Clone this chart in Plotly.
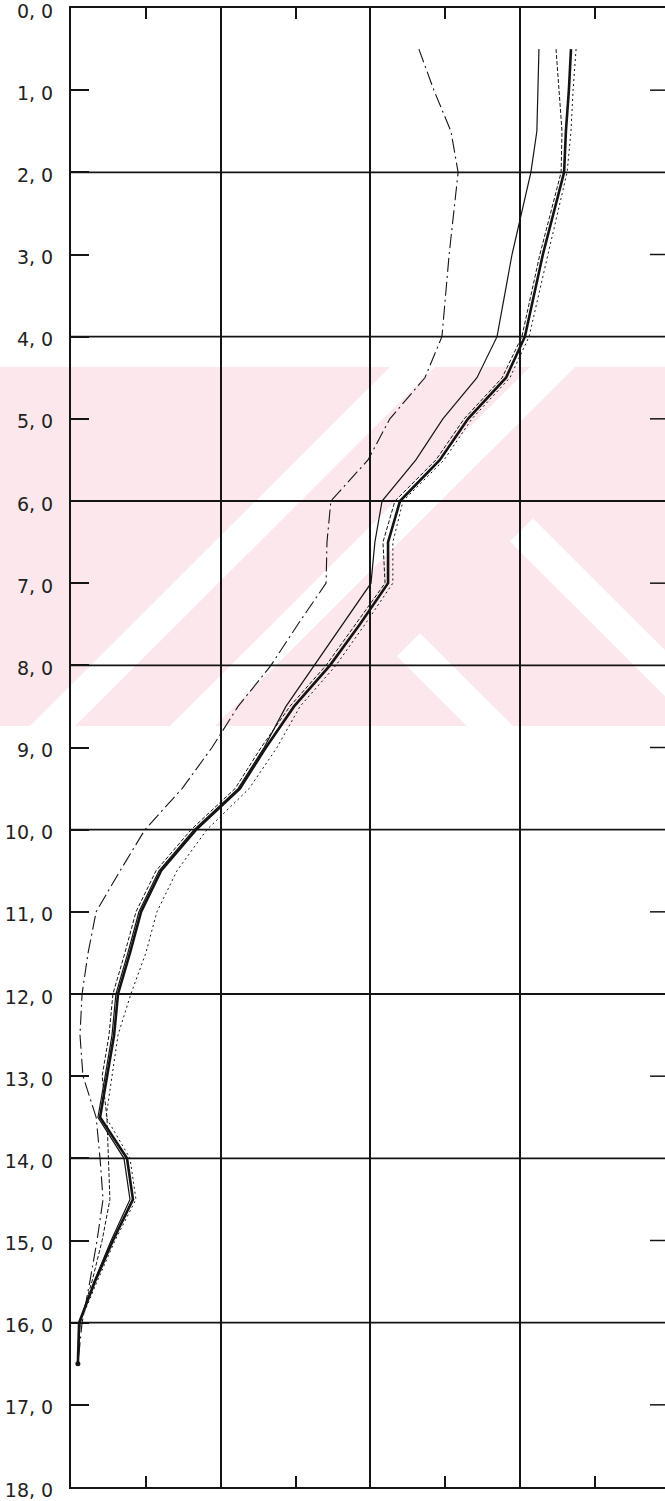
import plotly.graph_objects as go

# Depth of each measurement (m)
depth = [0.5, 1, 1.5, 2, 3, 4, 4.5, 5, 5.5, 6, 6.5, 7, 7.5, 8, 8.5, 9, 9.5,
         10, 10.5, 11, 11.5, 12, 12.5, 13, 13.5, 14, 14.5, 15, 15.5, 16, 16.5]

# Temperature profiles (degC), one per survey
temp_a = [16.62, 17.12, 17.69, 17.93, 17.63, 17.39, 16.82, 15.65, 14.92, 13.68,
          13.55, 13.52, 12.58, 11.68, 10.58, 9.71, 8.71, 7.47, 6.64, 5.84,
          5.57, 5.37, 5.30, 5.40, 5.84, 5.97, 6.07, 5.87, 5.63, 5.37, 5.23]
temp_b = [20.63, 20.60, 20.56, 20.36, 19.73, 19.23, 18.56, 17.42, 16.52, 15.39,
          15.15, 15.02, 14.08, 13.15, 12.18, 11.45, 10.58, 9.11, 7.94, 7.27,
          6.90, 6.50, 6.37, 6.14, 5.90, 6.77, 6.97, 6.34, 5.77, 5.30, 5.23]
temp_c = [21.20, 21.30, 21.40, 21.37, 20.66, 20.06, 19.40, 18.13, 17.19, 15.82,
          15.42, 15.49, 14.52, 13.52, 12.31, 11.35, 10.48, 9.01, 7.84, 7.17,
          6.80, 6.40, 6.27, 6.04, 6.20, 6.24, 6.30, 6.04, 5.70, 5.30, 5.23]
temp_d = [21.70, 21.63, 21.53, 21.47, 20.76, 20.16, 19.53, 18.26, 17.32, 15.99,
          15.59, 15.59, 14.65, 13.65, 12.45, 11.51, 10.64, 9.18, 8.01, 7.34,
          6.97, 6.57, 6.44, 6.20, 5.97, 6.87, 7.07, 6.40, 5.80, 5.27, 5.23]
temp_e = [21.87, 21.77, 21.70, 21.57, 20.93, 20.30, 19.66, 18.39, 17.46, 16.09,
          15.75, 15.75, 14.82, 13.85, 12.65, 11.88, 10.95, 9.54, 8.54, 7.87,
          7.50, 7.00, 6.57, 6.37, 6.17, 6.97, 7.17, 6.47, 5.87, 5.30, 5.23]

# Axis settings
temp_range = [5, 24.84]
temp_grid = [10, 15, 20]
temp_minor = [7.5, 12.5, 17.5, 22.5]
depth_ticks = list(range(0, 19))
depth_labels = [f"{d}, 0" for d in depth_ticks]
depth_grid = [2, 4, 6, 8, 10, 12, 14, 16]
depth_odd = [1, 3, 5, 7, 9, 11, 13, 15, 17]

INK = "#141414"
W, H = 665, 1501
ML, MR, MT, MB = 71, 0, 5, 13
PW, PH = W - ML - MR, H - MT - MB

fig = go.Figure()

profiles = [
    (temp_a, dict(width=1.1, dash="14px,4px,2px,4px")),
    (temp_b, dict(width=1.2)),
    (temp_c, dict(width=1.0, dash="4px,2px")),
    (temp_d, dict(width=2.6)),
    (temp_e, dict(width=1.0, dash="2px,3px")),
]
for vals, style in profiles:
    fig.add_trace(go.Scatter(x=vals, y=depth, mode="lines",
                             line=dict(color=INK, **style),
                             showlegend=False, hoverinfo="skip"))
fig.add_trace(go.Scatter(x=[temp_d[-1]], y=[depth[-1]], mode="markers",
                         marker=dict(size=5, color=INK),
                         showlegend=False, hoverinfo="skip"))


def px_to_paper(pts):
    return [((x - ML) / PW, (H - MB - y) / PH) for x, y in pts]


def poly_path(pts):
    p = px_to_paper(pts)
    return "M " + " L ".join(f"{a:.5f},{b:.5f}" for a, b in p) + " Z"


# Pale background emblem
emblem_pink = [(0, 365), (665, 365), (665, 725), (0, 725)]
emblem_white = [
    [(390, 365), (435, 365), (75, 725), (30, 725)],
    [(530, 365), (575, 365), (215, 725), (170, 725)],
    [(533, 517), (665, 649), (665, 695), (510, 540)],
    [(420, 632), (513, 725), (467, 725), (397, 655)],
]
shapes = [dict(type="path", path=poly_path(emblem_pink), xref="paper", yref="paper",
               fillcolor="#fce8ec", line=dict(width=0), layer="below")]
for poly in emblem_white:
    shapes.append(dict(type="path", path=poly_path(poly), xref="paper", yref="paper",
                       fillcolor="white", line=dict(width=0), layer="below"))

# Horizontal grid every 2 m
for d in depth_grid:
    shapes.append(dict(type="line", xref="paper", yref="y", x0=0, x1=1, y0=d, y1=d,
                       line=dict(color=INK, width=1.8), layer="between"))
# Odd-depth ticks on the right side
for d in depth_odd:
    shapes.append(dict(type="line", xref="paper", yref="y", x0=1 - 15 / PW, x1=1,
                       y0=d, y1=d, line=dict(color=INK, width=1.5), layer="above"))

fig.update_layout(
    width=W, height=H,
    margin=dict(l=ML, r=MR, t=MT, b=MB, pad=0),
    paper_bgcolor="white", plot_bgcolor="rgba(0,0,0,0)",
    shapes=shapes,
)
fig.update_xaxes(
    range=temp_range, tickvals=temp_grid, showticklabels=False, ticks="",
    showgrid=True, gridcolor=INK, gridwidth=1.8, zeroline=False,
    showline=True, linecolor=INK, linewidth=2, mirror="ticks",
    minor=dict(tickvals=temp_minor, ticks="inside", ticklen=11, tickwidth=1.5,
               tickcolor=INK, showgrid=False),
)
fig.update_yaxes(
    range=[18, 0], tickvals=depth_ticks, ticktext=depth_labels,
    ticks="inside", ticklen=18, tickwidth=1.5, tickcolor=INK,
    showline=True, linecolor=INK, linewidth=2, showgrid=False, zeroline=False,
    tickfont=dict(family="DejaVu Sans", size=19, color="#222"),
    ticklabelstandoff=12, ticklabelshift=-3, ticklabeloverflow="allow",
)

fig.write_html("out.html")
